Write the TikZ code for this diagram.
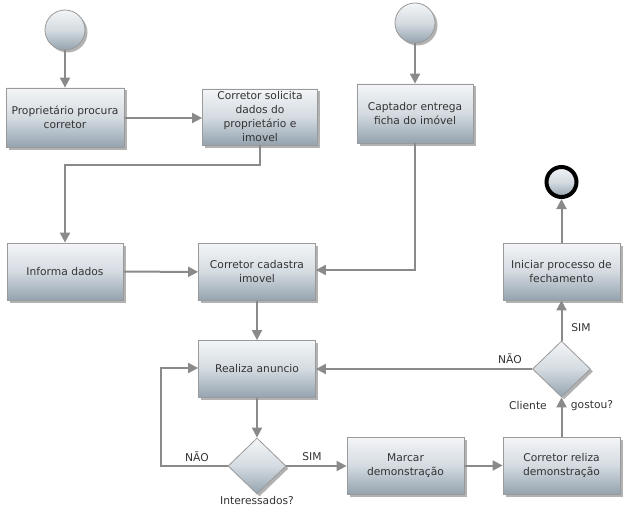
\documentclass[tikz,border=0pt]{standalone}
\usepackage{fontspec}
\setmainfont{DejaVu Sans}
\usetikzlibrary{arrows.meta,shapes.geometric,shadows}
\definecolor{boxtop}{HTML}{F3F5F7}
\definecolor{boxmid}{HTML}{D4DBE1}
\definecolor{boxbot}{HTML}{94A3AF}
\definecolor{edgegray}{HTML}{9A9A9A}
\definecolor{linkgray}{HTML}{8A8A8A}
\definecolor{txt}{HTML}{333333}
\tikzset{
  shade box/.style={top color=boxtop, bottom color=boxbot, middle color=boxmid,
    draw=edgegray, line width=0.8pt,
    drop shadow={shadow xshift=2.5pt, shadow yshift=-2.5pt, fill=black, opacity=0.3}},
  stepbox/.style={shade box, rectangle, minimum width=117pt, minimum height=57pt,
    inner sep=2pt, align=center, text=txt, font=\fontsize{10.7}{14}\selectfont},
  decision/.style={shade box, diamond, minimum width=58pt, minimum height=56pt, inner sep=0pt},
  startnode/.style={shade box, circle, minimum size=40pt, inner sep=0pt},
  endnode/.style={circle, top color=boxtop, bottom color=boxbot, middle color=boxmid,
    draw=black, line width=4pt, minimum size=30pt, inner sep=0pt},
  link/.style={draw=linkgray, line width=2pt, -{Triangle[length=10pt,width=10pt]}},
  lbl/.style={text=txt, font=\fontsize{10.7}{14}\selectfont, inner sep=1pt}
}
\begin{document}
\begin{tikzpicture}[x=1pt,y=-1pt]
\useasboundingbox (0,0) rectangle (639,532);
\fill[white] (0,0) rectangle (639,532);

% start events
\node[startnode] (s1) at (65,30) {};
\node[startnode] (s2) at (415,23) {};

% activities
\node[stepbox, minimum width=118pt, minimum height=59pt] (pp) at (65,117.5) {Proprietário procura\\corretor};
\node[stepbox, minimum width=115pt, minimum height=56pt] (cs) at (260,117) {Corretor solicita\\dados do\\proprietário e\\imovel};
\node[stepbox, minimum width=116pt, minimum height=59pt] (cap) at (415,113.5) {Captador entrega\\ficha do imóvel};
\node[stepbox, minimum width=116pt] (inf) at (65,271.5) {Informa dados};
\node[stepbox] (cad) at (257,272) {Corretor cadastra\\imovel};
\node[stepbox] (rea) at (257,369) {Realiza anuncio};
\node[decision] (d1) at (257,466) {};
\node[stepbox] (mar) at (405.5,465.5) {Marcar\\demonstração};
\node[stepbox] (rel) at (561.5,465.5) {Corretor reliza\\demonstração};
\node[decision] (d2) at (561.5,369) {};
\node[stepbox] (ini) at (561.5,271.5) {Iniciar processo de\\fechamento};
\node[endnode] (fim) at (561.5,182) {};

% helper corners
\coordinate (c1) at (cs.south |- 0,165);
\coordinate (c2) at (inf.north |- 0,165);
\coordinate (c3) at (cap.south |- 0,270);
\coordinate (c4) at (161,466);
\coordinate (c5) at (161,368);

% flow
\draw[link] (s1) -- (pp);
\draw[link] (pp.east |- 0,118) -- (cs.west |- 0,118);
\draw[link] (cs.south) -- (c1) -- (c2) -- (inf.north);
\draw[link] (s2) -- (cap);
\draw[link] (cap.south) -- (c3) -- (cad.east |- c3);
\draw[link] (inf) -- (cad);
\draw[link] (cad) -- (rea);
\draw[link] (rea) -- (d1);
\draw[link] (d1.west) -- (c4) -- (c5) -- (rea.west |- c5);
\draw[link] (d1.east) -- (mar.west |- d1.east);
\draw[link] (mar) -- (rel);
\draw[link] (rel) -- (d2);
\draw[link] (d2.west) -- (rea.east |- d2.west);
\draw[link] (d2) -- (ini);
\draw[link] (ini) -- (fim);

% labels
\node[lbl] (n1) at (197,457) {NÃO};
\node[lbl] (y1) at (312,457) {SIM};
\node[lbl] (q1) at (257,501) {Interessados?};
\node[lbl] (n2) at (510,359) {NÃO};
\node[lbl] (y2) at (581,328) {SIM};
\node[lbl] (q2a) at (528,406) {Cliente};
\node[lbl] (q2b) at (592,406) {gostou?};
\end{tikzpicture}
\end{document}
